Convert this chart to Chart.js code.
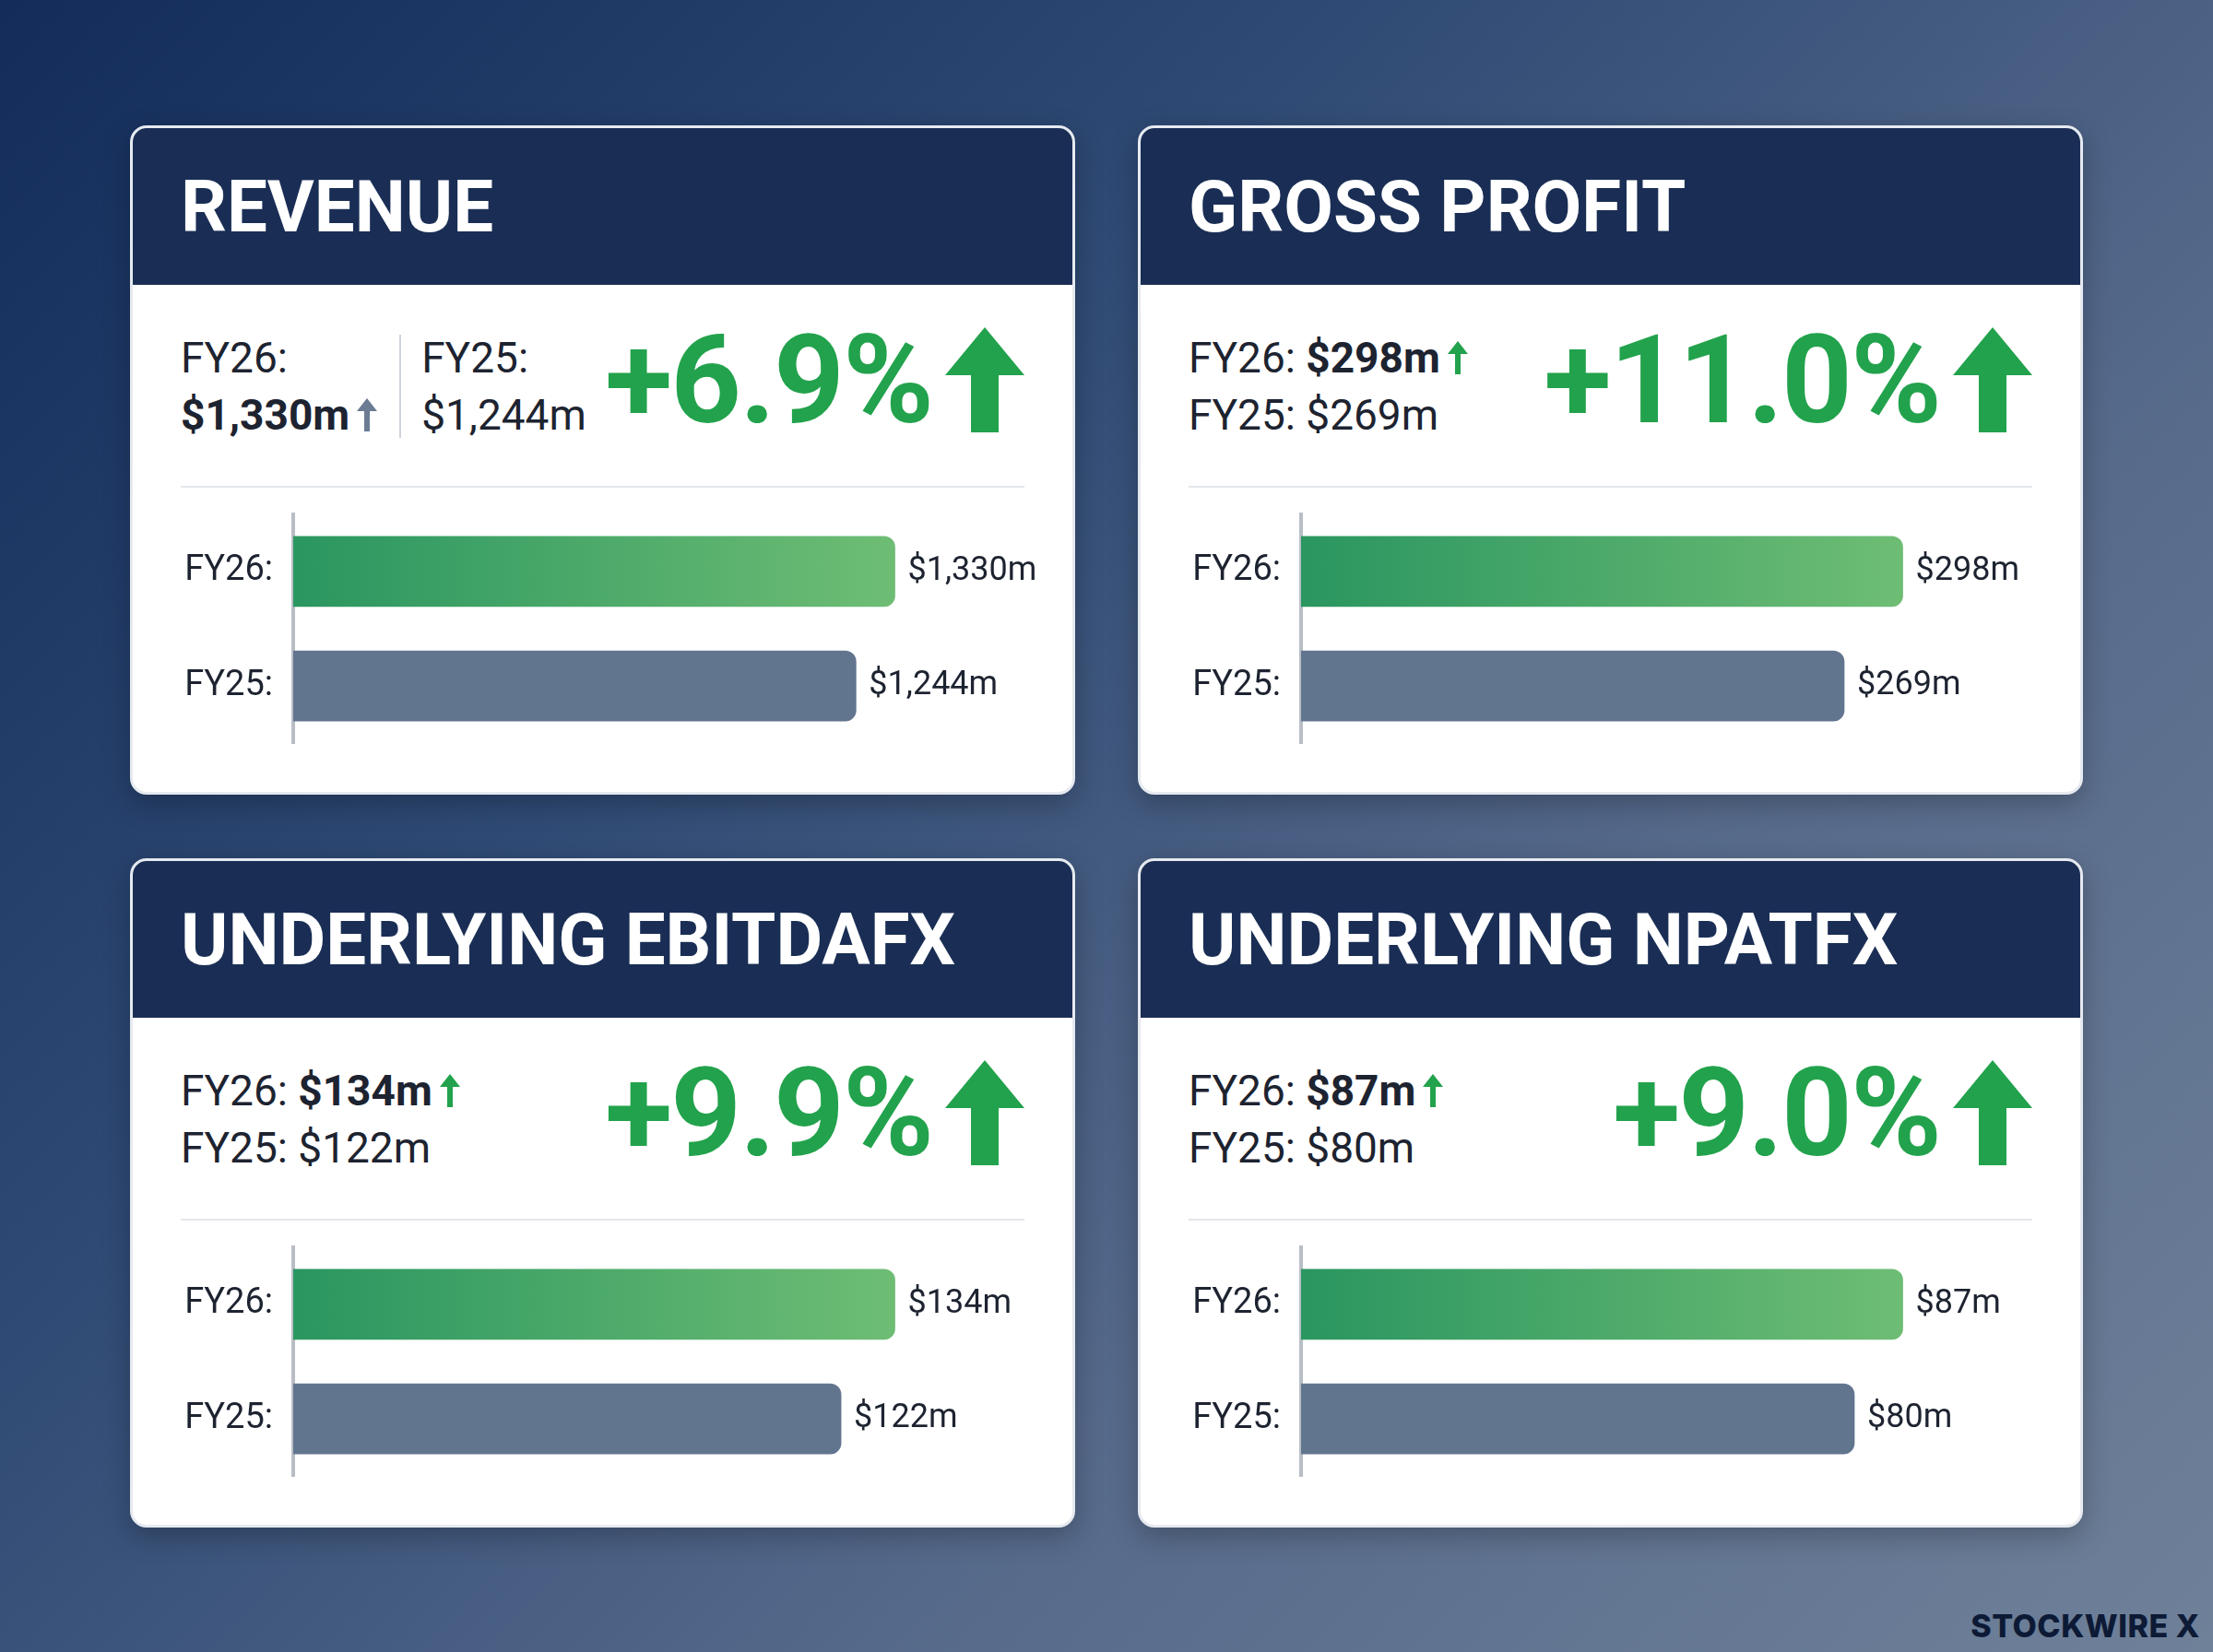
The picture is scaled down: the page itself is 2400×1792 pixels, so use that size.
<!DOCTYPE html>
<html>
<head>
<meta charset="utf-8">
<script src="https://cdn.jsdelivr.net/npm/chart.js@4"></script>
<style>
  html, body { margin: 0; padding: 0; }
  body {
    width: 2400px; height: 1792px; overflow: hidden; position: relative;
    font-family: Roboto, "Noto Sans", sans-serif;
    background: linear-gradient(135deg, #132c5a 0%, #2f4a74 35%, #55698a 65%, #6f8199 100%);
  }
  .card {
    position: absolute; width: 1025px; height: 726px;
    background: #fff; border-radius: 18px; border: 3px solid #e6eaf0;
    box-sizing: border-box; overflow: hidden;
    box-shadow: 0 10px 30px rgba(0,0,0,0.25);
  }
  .head {
    height: 170px; background: #1a2e55; color: #fff;
    font-weight: 700; font-size: 78px; line-height: 172px; padding-left: 52px;
  }
  .stats { position: absolute; left: 52px; top: 218px; font-size: 46px; color: #1d2330; line-height: 62px; }
  .stats b { font-weight: 700; }
  .col { display: inline-block; vertical-align: top; }
  .sep { display: inline-block; width: 2px; height: 112px; background: #cfd4dc; margin: 6px 22px 0 24px; vertical-align: top; }
  .big {
    position: absolute; right: 52px; top: 208px; height: 130px;
    display: flex; align-items: center; gap: 14px;
    font-weight: 700; font-size: 134px; color: #22a24c; letter-spacing: -2px;
  }
  .rule { position: absolute; left: 52px; right: 52px; top: 388px; height: 2px; background: #e3e6ea; }
  .wrap { position: absolute; left: 40px; top: 382px; width: 960px; height: 322px; }
  .mark { position: absolute; right: 14px; bottom: 8px; font-family: Inter, sans-serif; font-weight: 800; font-size: 34px; color: #0d1a36; letter-spacing: 0.5px; }
</style>
</head>
<body>
<div id="root"></div>
<div class="mark">STOCKWIRE X</div>
<script>
const titles = ['REVENUE', 'GROSS PROFIT', 'UNDERLYING EBITDAFX', 'UNDERLYING NPATFX'];
const years = ['FY26:', 'FY25:'];
const fy26 = [1330, 298, 134, 87];
const fy25 = [1244, 269, 122, 80];
const changes = ['+6.9%', '+11.0%', '+9.9%', '+9.0%'];

const fmt = v => '$' + v.toLocaleString('en-US') + 'm';
const smallUp = c => `<svg width="22" height="36" viewBox="0 0 22 36" style="margin-left:8px;vertical-align:-2px"><path d="M11 0 L22 14 L14 14 L14 36 L8 36 L8 14 L0 14 Z" fill="${c}"/></svg>`;
const bigUp = '<svg width="86" height="114" viewBox="0 0 86 114"><path d="M43 0 L86 52 L58 52 L58 114 L28 114 L28 52 L0 52 Z" fill="#22a24c"/></svg>';

const pos = [[141, 136], [1234, 136], [141, 931], [1234, 931]];
const root = document.getElementById('root');

titles.forEach((t, i) => {
  const card = document.createElement('div');
  card.className = 'card';
  card.style.left = pos[i][0] + 'px';
  card.style.top = pos[i][1] + 'px';
  let stats;
  if (i === 0) {
    stats = `<div class="col">FY26:<br><b>${fmt(fy26[i])}</b>${smallUp('#6b7c93')}</div><span class="sep"></span><div class="col">FY25:<br>${fmt(fy25[i])}</div>`;
  } else {
    stats = `FY26: <b>${fmt(fy26[i])}</b>${smallUp('#22a24c')}<br>FY25: ${fmt(fy25[i])}`;
  }
  card.innerHTML = `<div class="head">${t}</div>
    <div class="stats">${stats}</div>
    <div class="big"><span>${changes[i]}</span>${bigUp}</div>
    <div class="rule"></div>
    <div class="wrap"><canvas id="c${i}"></canvas></div>`;
  root.appendChild(card);
});

const valueLabels = {
  id: 'valueLabels',
  afterDatasetsDraw(chart) {
    const ctx = chart.ctx;
    const meta = chart.getDatasetMeta(0);
    ctx.save();
    ctx.font = '36px Roboto';
    ctx.fillStyle = '#1d2330';
    ctx.textBaseline = 'middle';
    meta.data.forEach((bar, k) => {
      ctx.fillText(fmt(chart.data.datasets[0].data[k]), bar.x + 14, bar.y);
    });
    ctx.restore();
  }
};

titles.forEach((t, i) => {
  new Chart(document.getElementById('c' + i), {
    type: 'bar',
    data: {
      labels: years,
      datasets: [{
        data: [fy26[i], fy25[i]],
        backgroundColor: ctx => {
          if (ctx.dataIndex === 1) return '#62758f';
          const a = ctx.chart.chartArea;
          if (!a) return '#3fa862';
          const g = ctx.chart.ctx.createLinearGradient(a.left, 0, a.left + a.width * 0.79, 0);
          g.addColorStop(0, '#2a9660');
          g.addColorStop(1, '#6ebd74');
          return g;
        },
        borderRadius: { topRight: 12, bottomRight: 12 },
        borderSkipped: false,
        barThickness: 76
      }]
    },
    options: {
      indexAxis: 'y',
      maintainAspectRatio: false,
      devicePixelRatio: 1,
      animation: false,
      layout: { padding: 0 },
      plugins: { legend: { display: false }, tooltip: { enabled: false } },
      scales: {
        x: { display: false, min: 0, max: fy26[i] / 0.79 },
        y: {
          afterFit: s => { s.width = 134; },
          grid: { display: false },
          border: { display: true, color: '#b9bec6', width: 4 },
          ticks: { color: '#1d2330', font: { family: 'Roboto', size: 38 }, padding: 14 }
        }
      }
    },
    plugins: [valueLabels]
  });
});
</script>
</body>
</html>
